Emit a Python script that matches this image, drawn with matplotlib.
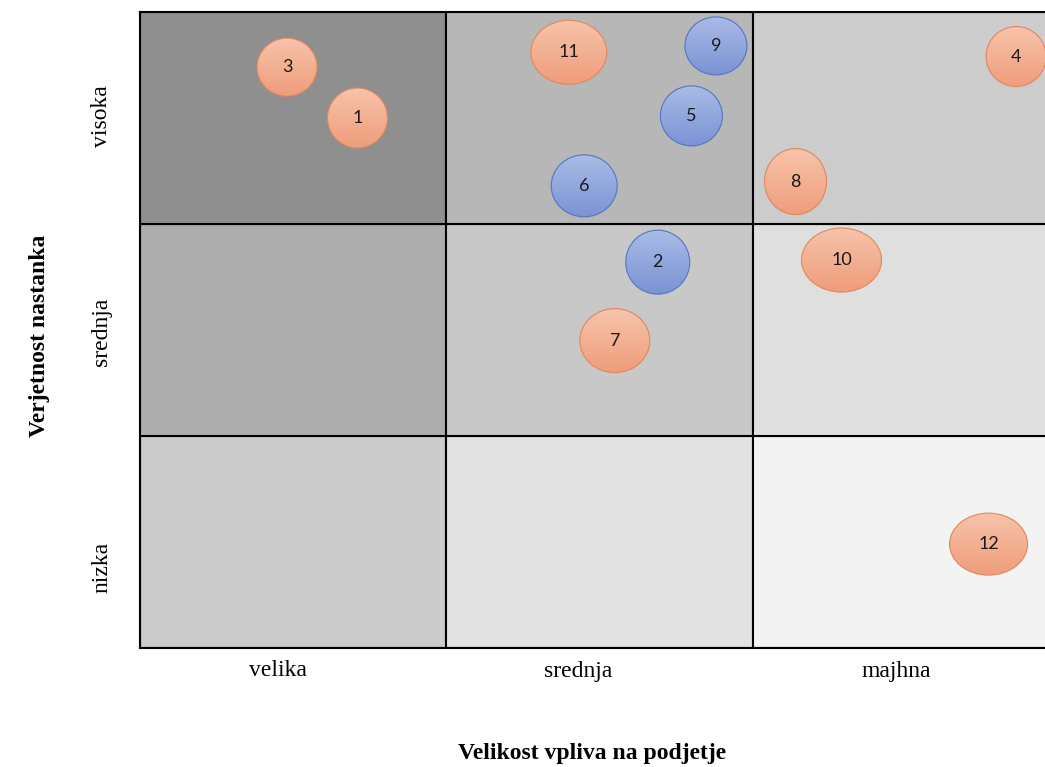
import numpy as np
import matplotlib.pyplot as plt
from matplotlib.patches import Ellipse, Rectangle
from matplotlib.colors import LinearSegmentedColormap

# risk matrix: columns = impact (velika -> majhna), rows = likelihood (nizka -> visoka)
impact_labels = ["velika", "srednja", "majhna"]
likelihood_labels = ["nizka", "srednja", "visoka"]

# cell shade, rows bottom -> top, columns left -> right
cell_grey = [
    [203, 226, 243],
    [173, 200, 223],
    [143, 183, 204],
]

# risks: id, impact position, likelihood position, group (0 = orange, 1 = blue)
risk_id = [1, 2, 3, 4, 5, 6, 7, 8, 9, 10, 11, 12]
risk_x = [0.71, 1.69, 0.48, 2.86, 1.80, 1.45, 1.55, 2.14, 1.88, 2.29, 1.40, 2.77]
risk_y = [2.50, 1.82, 2.74, 2.79, 2.51, 2.18, 1.45, 2.20, 2.84, 1.83, 2.81, 0.49]
risk_grp = [0, 1, 0, 0, 1, 1, 0, 0, 1, 0, 0, 0]
# oval half-sizes (px)
oval_rx = [30, 32, 30, 30, 31, 33, 35, 31, 31, 40, 38, 39]
oval_ry = [30, 32, 29, 30, 30, 31, 32, 33, 29, 32, 32, 31]

fills = [("#f7c3aa", "#ef9d7b", "#e0875e"), ("#a9bbe6", "#7a93d5", "#5574c2")]

plt.rcParams["font.family"] = ["Liberation Serif", "DejaVu Serif"]

fig = plt.figure(figsize=(10.45, 7.67), dpi=100)
ax = fig.add_axes([140 / 1045, 119 / 767, 919 / 1045, 636 / 767])
ax.set_xlim(0, 3)
ax.set_ylim(0, 3)

for r in range(3):
    for c in range(3):
        g = cell_grey[r][c] / 255
        ax.add_patch(Rectangle((c, r), 1, 1, facecolor=(g, g, g),
                               edgecolor="black", linewidth=1.5, zorder=1))

px_x = 919 / 3
px_y = 636 / 3
for i in range(len(risk_id)):
    top, bot, edge = fills[risk_grp[i]]
    w = 2 * oval_rx[i] / px_x
    h = 2 * oval_ry[i] / px_y
    x0, y0 = risk_x[i], risk_y[i]
    el = Ellipse((x0, y0), w, h, facecolor="none", edgecolor=edge,
                 linewidth=0.8, zorder=4)
    ax.add_patch(el)
    # vertical gradient fill clipped to the oval
    grad = np.linspace(0, 1, 64).reshape(-1, 1)
    cmap = LinearSegmentedColormap.from_list("g", [bot, top])
    im = ax.imshow(grad, cmap=cmap, origin="lower", aspect="auto",
                   extent=(x0 - w / 2, x0 + w / 2, y0 - h / 2, y0 + h / 2),
                   zorder=3)
    im.set_clip_path(el)
    ax.text(x0, y0, str(risk_id[i]), ha="center", va="center",
            fontsize=13, family=["Lato", "DejaVu Sans"], color="#1a1a1a",
            zorder=5)

ax.set_xlim(0, 3)
ax.set_ylim(0, 3)

ax.set_xticks([0.45, 1.43, 2.47])
ax.set_xticklabels(impact_labels, fontsize=17)
ax.set_yticks([0.38, 1.49, 2.51])
ax.set_yticklabels(likelihood_labels, fontsize=17, rotation=90, va="center")
ax.tick_params(length=0)
ax.tick_params(axis="x", pad=9)
ax.tick_params(axis="y", pad=20)

for s in ax.spines.values():
    s.set_linewidth(1.5)

fig.text(592 / 1045, 1 - 754 / 767, "Velikost vpliva na podjetje",
         ha="center", va="center", fontsize=17, fontweight="bold")
fig.text(40 / 1045, 1 - 336 / 767, "Verjetnost nastanka", ha="center",
         va="center", rotation=90, fontsize=17, fontweight="bold")

fig.savefig("out.png", dpi=100)
